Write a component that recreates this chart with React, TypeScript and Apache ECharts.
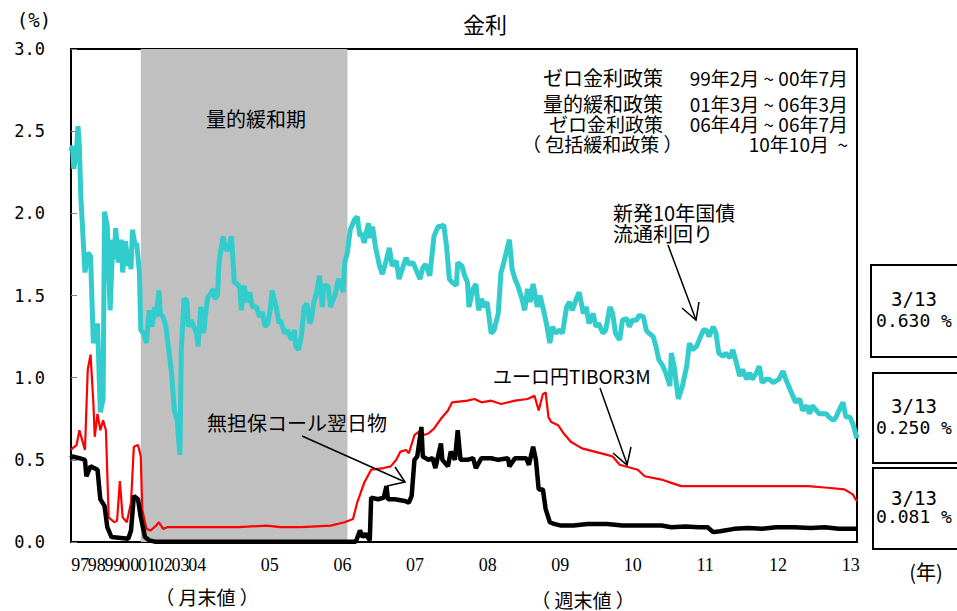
import React, { useEffect, useRef } from "react";
import * as echarts from "echarts";

// x = observation number: monthly Jan-1997 (0) .. Dec-2003 (83), weekly from Jan-2004 (84) .. Mar-2013 (563)
const yearLabels = ["97", "98", "99", "00", "01", "02", "03", "04", "05", "06", "07", "08", "09", "10", "11", "12", "13"];
const yearStartIdx = [0.2, 12, 24, 36, 48, 60, 72, 84, 136, 188, 240, 292, 344, 396, 448, 500, 552];
const lastIdx = 563;
const qeStartIdx = 50; // 2001/3
const qeEndIdx = 198; // 2006/3

// 新発10年国債流通利回り
const jgb10y: [number, number][] = [
  [0, 2.38], [1, 2.41], [2, 2.27], [4, 2.39], [5, 2.53], [6, 2.41], [7, 2.11], [10, 1.64], [12, 1.76], [14, 1.74],
  [16, 1.21], [19, 1.33], [21, 0.79], [23, 0.87], [24, 2.01], [26, 1.92], [28, 1.41], [30, 1.84], [31, 1.72], [32, 1.91],
  [34, 1.70], [36, 1.84], [37, 1.64], [39, 1.83], [41, 1.68], [42, 1.78], [43, 1.66], [44, 1.90], [46, 1.80], [47, 1.82],
  [49, 1.64], [50, 1.29], [52, 1.27], [54, 1.21], [56, 1.41], [58, 1.31], [60, 1.43], [61, 1.37], [63, 1.53], [64, 1.39],
  [66, 1.37], [68, 1.31], [70, 1.17], [72, 1.03], [74, 0.80], [76, 0.74], [78, 0.53], [79, 1.17], [81, 1.48], [83, 1.47],
  [84, 1.31], [86, 1.35], [88, 1.31], [90, 1.27], [91, 1.19], [93, 1.43], [95, 1.27], [97, 1.43], [98, 1.49], [100, 1.51],
  [102, 1.54], [103, 1.48], [105, 1.50], [106, 1.70], [109, 1.86], [110, 1.80], [112, 1.77], [115, 1.86], [117, 1.58], [119, 1.57],
  [121, 1.55], [122, 1.41], [124, 1.56], [126, 1.46], [128, 1.52], [130, 1.43], [133, 1.43], [135, 1.37], [137, 1.40], [139, 1.31],
  [141, 1.33], [143, 1.43], [144, 1.53], [147, 1.43], [149, 1.33], [150, 1.35], [153, 1.27], [155, 1.29], [158, 1.23], [160, 1.29],
  [161, 1.19], [163, 1.17], [165, 1.25], [167, 1.43], [169, 1.45], [171, 1.33], [172, 1.35], [174, 1.46], [176, 1.52], [178, 1.62],
  [180, 1.43], [181, 1.56], [184, 1.56], [186, 1.43], [187, 1.46], [189, 1.50], [191, 1.58], [192, 1.60], [195, 1.52], [196, 1.70],
  [198, 1.76], [200, 1.90], [203, 1.96], [205, 1.98], [207, 1.86], [208, 1.88], [210, 1.82], [213, 1.94], [214, 1.85], [216, 1.92],
  [218, 1.80], [221, 1.68], [223, 1.63], [226, 1.72], [228, 1.79], [230, 1.68], [233, 1.71], [235, 1.60], [238, 1.68], [240, 1.73],
  [242, 1.69], [245, 1.70], [247, 1.66], [250, 1.60], [252, 1.67], [254, 1.69], [257, 1.62], [260, 1.86], [263, 1.92], [265, 1.92],
  [267, 1.93], [269, 1.80], [271, 1.60], [273, 1.58], [276, 1.56], [277, 1.70], [280, 1.68], [282, 1.62], [284, 1.58], [285, 1.43],
  [288, 1.54], [290, 1.57], [292, 1.41], [294, 1.48], [296, 1.43], [298, 1.46], [301, 1.27], [303, 1.29], [306, 1.39], [308, 1.64],
  [310, 1.70], [312, 1.77], [314, 1.84], [316, 1.66], [318, 1.60], [320, 1.56], [323, 1.48], [325, 1.41], [327, 1.54], [329, 1.46],
  [331, 1.57], [334, 1.43], [336, 1.50], [339, 1.39], [341, 1.31], [343, 1.21], [345, 1.31], [347, 1.27], [350, 1.29], [352, 1.27],
  [355, 1.43], [357, 1.46], [359, 1.41], [362, 1.48], [364, 1.52], [367, 1.39], [369, 1.43], [371, 1.33], [374, 1.39], [376, 1.31],
  [378, 1.33], [381, 1.27], [383, 1.29], [386, 1.43], [388, 1.39], [390, 1.27], [393, 1.23], [395, 1.35], [398, 1.36], [400, 1.31],
  [402, 1.35], [405, 1.35], [407, 1.38], [410, 1.37], [412, 1.29], [414, 1.27], [417, 1.25], [419, 1.19], [421, 1.11], [424, 1.07],
  [426, 1.03], [429, 0.95], [430, 1.15], [432, 1.07], [435, 0.87], [438, 0.95], [441, 1.07], [443, 1.21], [445, 1.17], [448, 1.19],
  [450, 1.23], [453, 1.29], [455, 1.29], [457, 1.25], [460, 1.31], [462, 1.27], [464, 1.15], [467, 1.13], [469, 1.15], [472, 1.12],
  [474, 1.17], [476, 1.11], [479, 1.01], [481, 1.05], [484, 0.99], [486, 1.03], [488, 0.99], [491, 1.03], [493, 1.07], [495, 0.97],
  [498, 0.99], [500, 0.99], [503, 0.97], [505, 0.98], [507, 0.99], [510, 1.04], [512, 0.99], [515, 0.93], [517, 0.89], [519, 0.85],
  [522, 0.87], [524, 0.80], [527, 0.83], [529, 0.78], [531, 0.83], [534, 0.80], [536, 0.78], [538, 0.78], [541, 0.78], [543, 0.76],
  [546, 0.74], [548, 0.76], [550, 0.80], [553, 0.85], [555, 0.76], [558, 0.76], [560, 0.72], [562, 0.66], [563, 0.63],
];

// ユーロ円TIBOR3M
const tibor3m: [number, number][] = [
  [0, 0.56], [1, 0.57], [4, 0.59], [6, 0.68], [8, 0.62], [10, 0.56], [12, 1.05], [14, 1.14], [16, 0.85], [17, 0.64],
  [19, 0.78], [21, 0.68], [23, 0.74], [25, 0.68], [27, 0.15], [31, 0.12], [33, 0.13], [35, 0.37], [37, 0.15], [40, 0.12],
  [43, 0.24], [45, 0.58], [48, 0.59], [50, 0.52], [51, 0.20], [54, 0.08], [57, 0.07], [61, 0.10], [63, 0.12], [66, 0.08],
  [69, 0.09], [74, 0.09], [88, 0.09], [120, 0.09], [140, 0.10], [150, 0.09], [165, 0.09], [186, 0.10], [196, 0.12], [202, 0.14],
  [205, 0.24], [210, 0.36], [215, 0.44], [224, 0.45], [229, 0.46], [233, 0.50], [236, 0.55], [240, 0.56], [242, 0.54], [246, 0.65],
  [249, 0.67], [252, 0.65], [256, 0.66], [260, 0.69], [265, 0.75], [270, 0.80], [273, 0.85], [284, 0.86], [289, 0.87], [294, 0.85],
  [301, 0.86], [308, 0.84], [318, 0.86], [327, 0.87], [332, 0.89], [335, 0.80], [338, 0.90], [340, 0.91], [342, 0.76], [344, 0.73],
  [349, 0.71], [353, 0.66], [358, 0.61], [366, 0.57], [375, 0.55], [384, 0.53], [388, 0.52], [393, 0.47], [406, 0.44], [411, 0.40],
  [423, 0.38], [430, 0.36], [437, 0.34], [470, 0.34], [528, 0.34], [542, 0.33], [554, 0.32], [560, 0.29], [562, 0.26], [563, 0.25],
];

// 無担保コール翌日物
const callRate: [number, number][] = [
  [0, 0.51], [1, 0.52], [6, 0.51], [10, 0.50], [11, 0.40], [14, 0.46], [19, 0.44], [21, 0.26], [24, 0.22], [26, 0.09],
  [29, 0.03], [41, 0.02], [43, 0.07], [45, 0.28], [48, 0.26], [50, 0.15], [53, 0.03], [56, 0.01], [60, 0.002], [204, 0.002],
  [207, 0.07], [209, 0.03], [211, 0.05], [214, 0.01], [215, 0.27], [220, 0.26], [224, 0.27], [226, 0.34], [227, 0.26], [232, 0.26],
  [239, 0.25], [242, 0.24], [244, 0.28], [246, 0.50], [248, 0.52], [251, 0.70], [252, 0.52], [256, 0.50], [259, 0.51], [261, 0.45],
  [265, 0.60], [266, 0.50], [270, 0.46], [272, 0.55], [275, 0.50], [277, 0.68], [279, 0.50], [284, 0.50], [288, 0.51], [290, 0.45],
  [294, 0.51], [301, 0.51], [306, 0.50], [313, 0.51], [314, 0.46], [318, 0.51], [326, 0.51], [328, 0.47], [331, 0.58], [333, 0.50],
  [335, 0.32], [338, 0.32], [340, 0.20], [343, 0.12], [346, 0.11], [351, 0.10], [360, 0.10], [370, 0.11], [384, 0.11], [395, 0.10],
  [405, 0.10], [415, 0.10], [423, 0.10], [430, 0.09], [440, 0.095], [450, 0.09], [456, 0.09], [460, 0.06], [465, 0.065], [475, 0.08],
  [485, 0.085], [495, 0.08], [505, 0.09], [518, 0.09], [530, 0.085], [540, 0.09], [550, 0.08], [562, 0.08], [563, 0.081],
];

const latestDate = "3/13";
const latestJgb = "0.630";
const latestTibor = "0.250";
const latestCall = "0.081";

// first label slot is an empty placeholder (hidden via showMinLabel:false) so that all year labels stay visible
const labelValues = [0, ...yearStartIdx];
const labelTexts = ["", ...yearLabels];

const CJK = '"Noto Sans CJK JP", sans-serif';
const MONO = '"DejaVu Sans Mono", monospace';
const SERIF = '"Liberation Serif", serif';

function txt(text: string, x: number, y: number, size: number, align = "left", family = CJK) {
  return {
    type: "text",
    z: 100,
    style: {
      text,
      x,
      y,
      fill: "#000",
      font: `${size}px ${family}`,
      textAlign: align,
      textVerticalAlign: "middle",
      align,
      verticalAlign: "middle",
    },
  };
}

function arrowLine(x1: number, y1: number, x2: number, y2: number, w = 1.5) {
  return { type: "line", z: 100, shape: { x1, y1, x2, y2 }, style: { stroke: "#000", lineWidth: w } };
}

function arrowHead(pts: number[][], w = 1.5) {
  return { type: "polyline", z: 100, shape: { points: pts }, style: { stroke: "#000", lineWidth: w, fill: "none" } };
}

function valueBox(y: number, h: number, x: number, value: string) {
  return [
    { type: "rect", z: 100, shape: { x, y, width: 120, height: h }, style: { fill: "#fff", stroke: "#000", lineWidth: 2 } },
    txt(latestDate, 914, y + h * 0.37, 19, "center", MONO),
    txt(`${value} %`, 914, y + h * 0.6, 18, "center", MONO),
  ];
}

export default function App() {
  const ref = useRef<HTMLDivElement>(null);
  useEffect(() => {
    document.body.style.margin = "0";
    if (!ref.current) return;
    const chart = echarts.init(ref.current, undefined, { renderer: "svg" });
    chart.setOption({
      animation: false,
      backgroundColor: "#fff",
      grid: { left: 71, right: 100, top: 49, bottom: 69, show: true, borderColor: "#000", borderWidth: 2, backgroundColor: "rgba(0,0,0,0)" },
      xAxis: {
        type: "value",
        min: 0,
        max: lastIdx,
        splitLine: { show: false },
        axisLine: { show: true, onZero: false, lineStyle: { color: "#000", width: 2 } },
        axisTick: { show: false },
        axisLabel: {
          customValues: labelValues,
          showMinLabel: false,
          showMaxLabel: true,
          hideOverlap: false,
          formatter: (v: number) => {
            const i = labelValues.indexOf(v);
            return i >= 0 ? labelTexts[i] : "";
          },
          align: "left",
          margin: 14,
          fontFamily: SERIF,
          fontSize: 18,
          color: "#000",
        },
      },
      yAxis: {
        type: "value",
        min: 0,
        max: 3,
        interval: 0.5,
        splitLine: { show: false },
        axisLine: { show: true, lineStyle: { color: "#000", width: 2 } },
        axisTick: { show: true, inside: true, length: 6, lineStyle: { color: "#808080" } },
        axisLabel: { formatter: (v: number) => v.toFixed(1), margin: 26, fontFamily: MONO, fontSize: 17, color: "#000" },
      },
      series: [
        {
          name: "ユーロ円TIBOR3M",
          type: "line",
          z: 2,
          data: tibor3m,
          showSymbol: false,
          symbol: "none",
          lineStyle: { color: "#FF0000", width: 2.2 },
          markArea: {
            silent: true,
            itemStyle: { color: "#C0C0C0", opacity: 1 },
            data: [[{ xAxis: qeStartIdx }, { xAxis: qeEndIdx }]],
          },
        },
        {
          name: "無担保コール翌日物",
          type: "line",
          z: 3,
          data: callRate,
          showSymbol: false,
          symbol: "none",
          lineStyle: { color: "#000000", width: 4.5 },
        },
        {
          name: "新発10年国債流通利回り",
          type: "line",
          z: 4,
          data: jgb10y,
          showSymbol: false,
          symbol: "none",
          lineStyle: { color: "#33CCCC", width: 5 },
        },
      ],
      graphic: [
        txt("金利", 485, 23, 22, "center"),
        txt("(%)", 34, 20, 19, "center", MONO),
        txt("量的緩和期", 256, 118, 20, "center"),
        txt("ゼロ金利政策", 663, 77, 20, "right"),
        txt("99年2月 ~ 00年7月", 848, 77, 19, "right"),
        txt("量的緩和政策", 663, 103, 20, "right"),
        txt("01年3月 ~ 06年3月", 848, 103, 19, "right"),
        txt("ゼロ金利政策", 663, 123, 19, "right"),
        txt("06年4月 ~ 06年7月", 848, 123, 19, "right"),
        txt("（ 包括緩和政策 ）", 522, 143, 19, "left"),
        txt("10年10月  ~", 848, 143, 19, "right"),
        txt("新発10年国債", 613, 212, 20, "left"),
        txt("流通利回り", 613, 233, 20, "left"),
        arrowLine(668, 245, 696, 320),
        arrowHead([[682, 308], [696, 320], [699, 302]]),
        txt("ユーロ円TIBOR3M", 493, 375, 19, "left"),
        arrowLine(600, 388, 627, 464),
        arrowHead([[613, 453], [627, 465], [631, 447]]),
        txt("無担保コール翌日物", 207, 422, 20, "left"),
        arrowLine(302, 436, 405, 482),
        arrowHead([[395, 467], [405, 482], [387, 486]]),
        ...valueBox(265, 92, 871, latestJgb),
        ...valueBox(373, 90, 873, latestTibor),
        ...valueBox(468, 81, 873, latestCall),
        txt("(年)", 926, 571, 20, "center"),
        txt("（ 月末値 ）", 207, 596, 19, "center"),
        txt("（ 週末値 ）", 583, 599, 19, "center"),
      ],
    });
    return () => chart.dispose();
  }, []);
  return <div ref={ref} style={{ width: 957, height: 611 }} />;
}
